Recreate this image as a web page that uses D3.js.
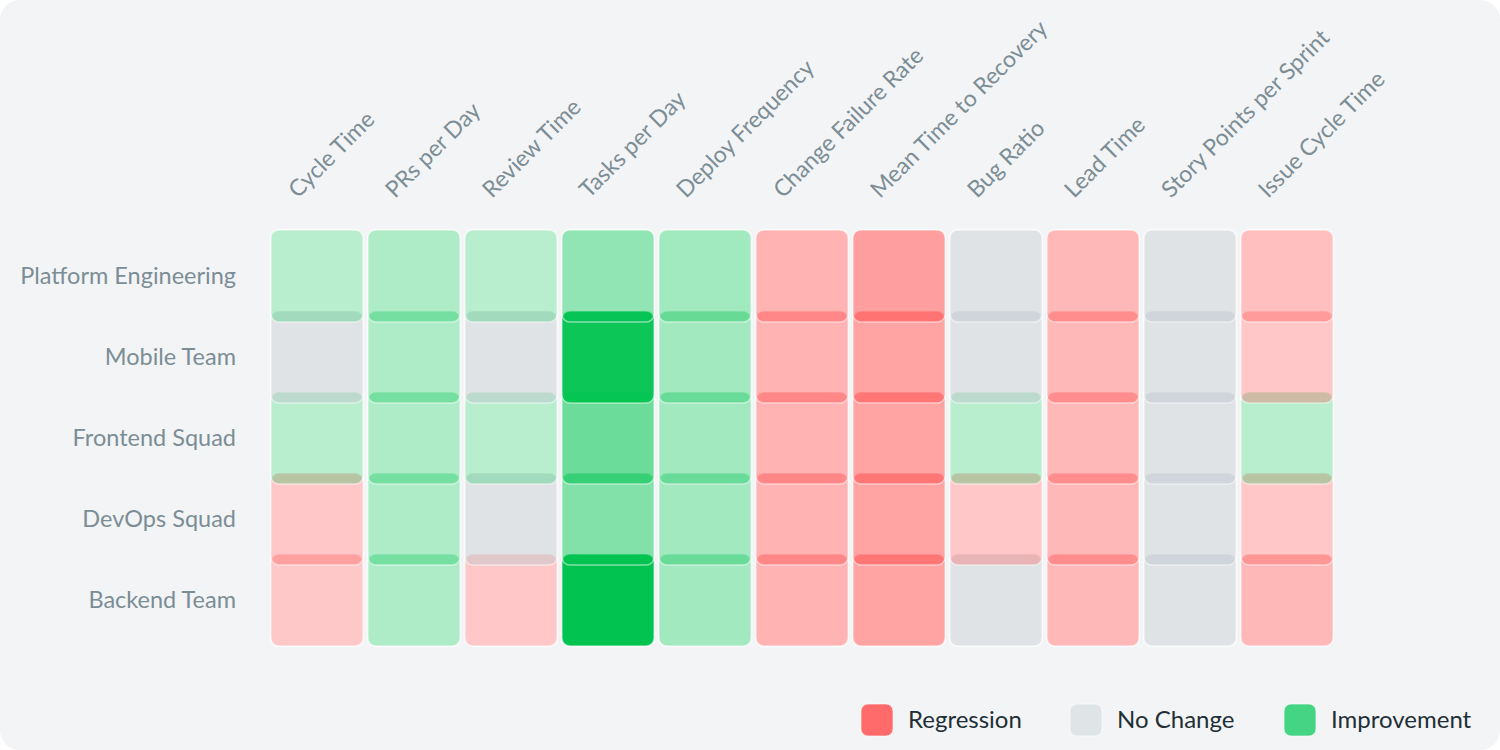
<!DOCTYPE html>
<html>
<head>
<meta charset="utf-8">
<script src="https://cdn.jsdelivr.net/npm/d3@7"></script>
<style>
  html, body { margin: 0; padding: 0; background: #ffffff; }
  svg { display: block; font-family: Lato, "Open Sans", sans-serif; }
</style>
</head>
<body>
<div class="heatmap"></div>
<script>
var teams = ['Platform Engineering', 'Mobile Team', 'Frontend Squad', 'DevOps Squad', 'Backend Team'];
var metrics = ['Cycle Time', 'PRs per Day', 'Review Time', 'Tasks per Day', 'Deploy Frequency',
  'Change Failure Rate', 'Mean Time to Recovery', 'Bug Ratio', 'Lead Time',
  'Story Points per Sprint', 'Issue Cycle Time'];

// change score per team, % (positive = improvement, negative = regression, 0 = no change)
var platformScores = [10, 15, 10, 29, 21, -28, -42, 0, -24, 0, -19];
var mobileScores = [0, 15, 0, 94, 20, -28, -39, 0, -24, 0, -14];
var frontendScores = [10, 15, 10, 47, 20, -28, -39, 10, -24, 0, 10];
var devopsScores = [-14, 15, 0, 37, 20, -28, -39, -14, -24, 0, -14];
var backendScores = [-13, 15, -14, 100, 20, -28, -39, 0, -24, 0, -24];
var scores = [platformScores, mobileScores, frontendScores, devopsScores, backendScores];

var legendLabels = ['Regression', 'No Change', 'Improvement'];
var legendColors = ['#ff6b6b', '#dfe4e7', '#45d483'];

var width = 1500,
    height = 750,
    cellOverlap = 11,
    noChangeOpacity = 0.5;

var svg = d3.select('.heatmap').append('svg')
  .attr('width', width)
  .attr('height', height);

svg.append('rect')
  .attr('width', width)
  .attr('height', height)
  .attr('rx', 20)
  .attr('fill', '#f3f4f6');

var x = d3.scaleBand()
  .domain(metrics)
  .range([268.5, 1335.5])
  .paddingInner(0.05)
  .paddingOuter(0.025);

var y = d3.scaleBand()
  .domain(teams)
  .range([230, 635]);

var color = d3.scaleThreshold()
  .domain([-0.5, 0.5])
  .range(['#ff4b4b', '#bfc7cd', '#00c350']);

var opacity = d3.scaleLinear()
  .domain([0, 100])
  .range([0.2, 1]);

function cellOpacity(d) {
  return d.value === 0 ? noChangeOpacity : opacity(Math.abs(d.value));
}

var cells = [];
teams.forEach(function(team, i) {
  metrics.forEach(function(metric, j) {
    cells.push({team: team, metric: metric, value: scores[i][j], row: i});
  });
});
// upper rows sit on top of the rows below them
cells.sort(function(a, b) { return b.row - a.row; });

var cellHeight = y.bandwidth() + cellOverlap;

// white base under the translucent cells
svg.append('g').attr('class', 'cell-bases')
  .selectAll('rect')
  .data(cells)
  .enter().append('rect')
    .attr('x', function(d) { return x(d.metric); })
    .attr('y', function(d) { return y(d.team); })
    .attr('width', x.bandwidth())
    .attr('height', cellHeight)
    .attr('rx', 8)
    .attr('fill', '#ffffff')
    .attr('stroke', '#ffffff')
    .attr('stroke-opacity', 0.5)
    .attr('stroke-width', 2.5);

svg.append('g').attr('class', 'cells')
  .selectAll('.cell')
  .data(cells)
  .enter().append('rect')
    .attr('class', 'cell')
    .attr('x', function(d) { return x(d.metric); })
    .attr('y', function(d) { return y(d.team); })
    .attr('width', x.bandwidth())
    .attr('height', cellHeight)
    .attr('rx', 8)
    .attr('fill', function(d) { return color(d.value); })
    .attr('fill-opacity', cellOpacity)
    .attr('stroke', '#ffffff')
    .attr('stroke-opacity', 0.5)
    .attr('stroke-width', 1.5);

// team labels
svg.append('g').attr('class', 'row-labels')
  .selectAll('text')
  .data(teams)
  .enter().append('text')
    .attr('x', 236)
    .attr('y', function(d) { return y(d) + cellHeight / 2; })
    .attr('dy', '0.35em')
    .attr('text-anchor', 'end')
    .attr('fill', '#7b8d95')
    .style('font-size', '23.5px')
    .text(function(d) { return d; });

// metric labels
svg.append('g').attr('class', 'col-labels')
  .selectAll('text')
  .data(metrics)
  .enter().append('text')
    .attr('transform', function(d) {
      return 'translate(' + (x(d) + x.bandwidth() / 2 - 19) + ',199) rotate(-45)';
    })
    .attr('text-anchor', 'start')
    .attr('fill', '#7b8d95')
    .style('font-size', '23px')
    .text(function(d) { return d; });

// legend
var legendX = [861, 1070, 1284];
var legend = svg.append('g').attr('class', 'legend')
  .selectAll('.item')
  .data(legendLabels)
  .enter().append('g')
    .attr('class', 'item')
    .attr('transform', function(d, i) { return 'translate(' + legendX[i] + ',704)'; });

legend.append('rect')
  .attr('width', 32)
  .attr('height', 32)
  .attr('rx', 7)
  .attr('fill', function(d, i) { return legendColors[i]; })
  .attr('stroke', '#ffffff')
  .attr('stroke-opacity', 0.6)
  .attr('stroke-width', 1);

legend.append('text')
  .attr('x', 47)
  .attr('y', 16)
  .attr('dy', '0.35em')
  .attr('fill', '#1f2f36')
  .style('font-size', '24px')
  .text(function(d) { return d; });
</script>
</body>
</html>
